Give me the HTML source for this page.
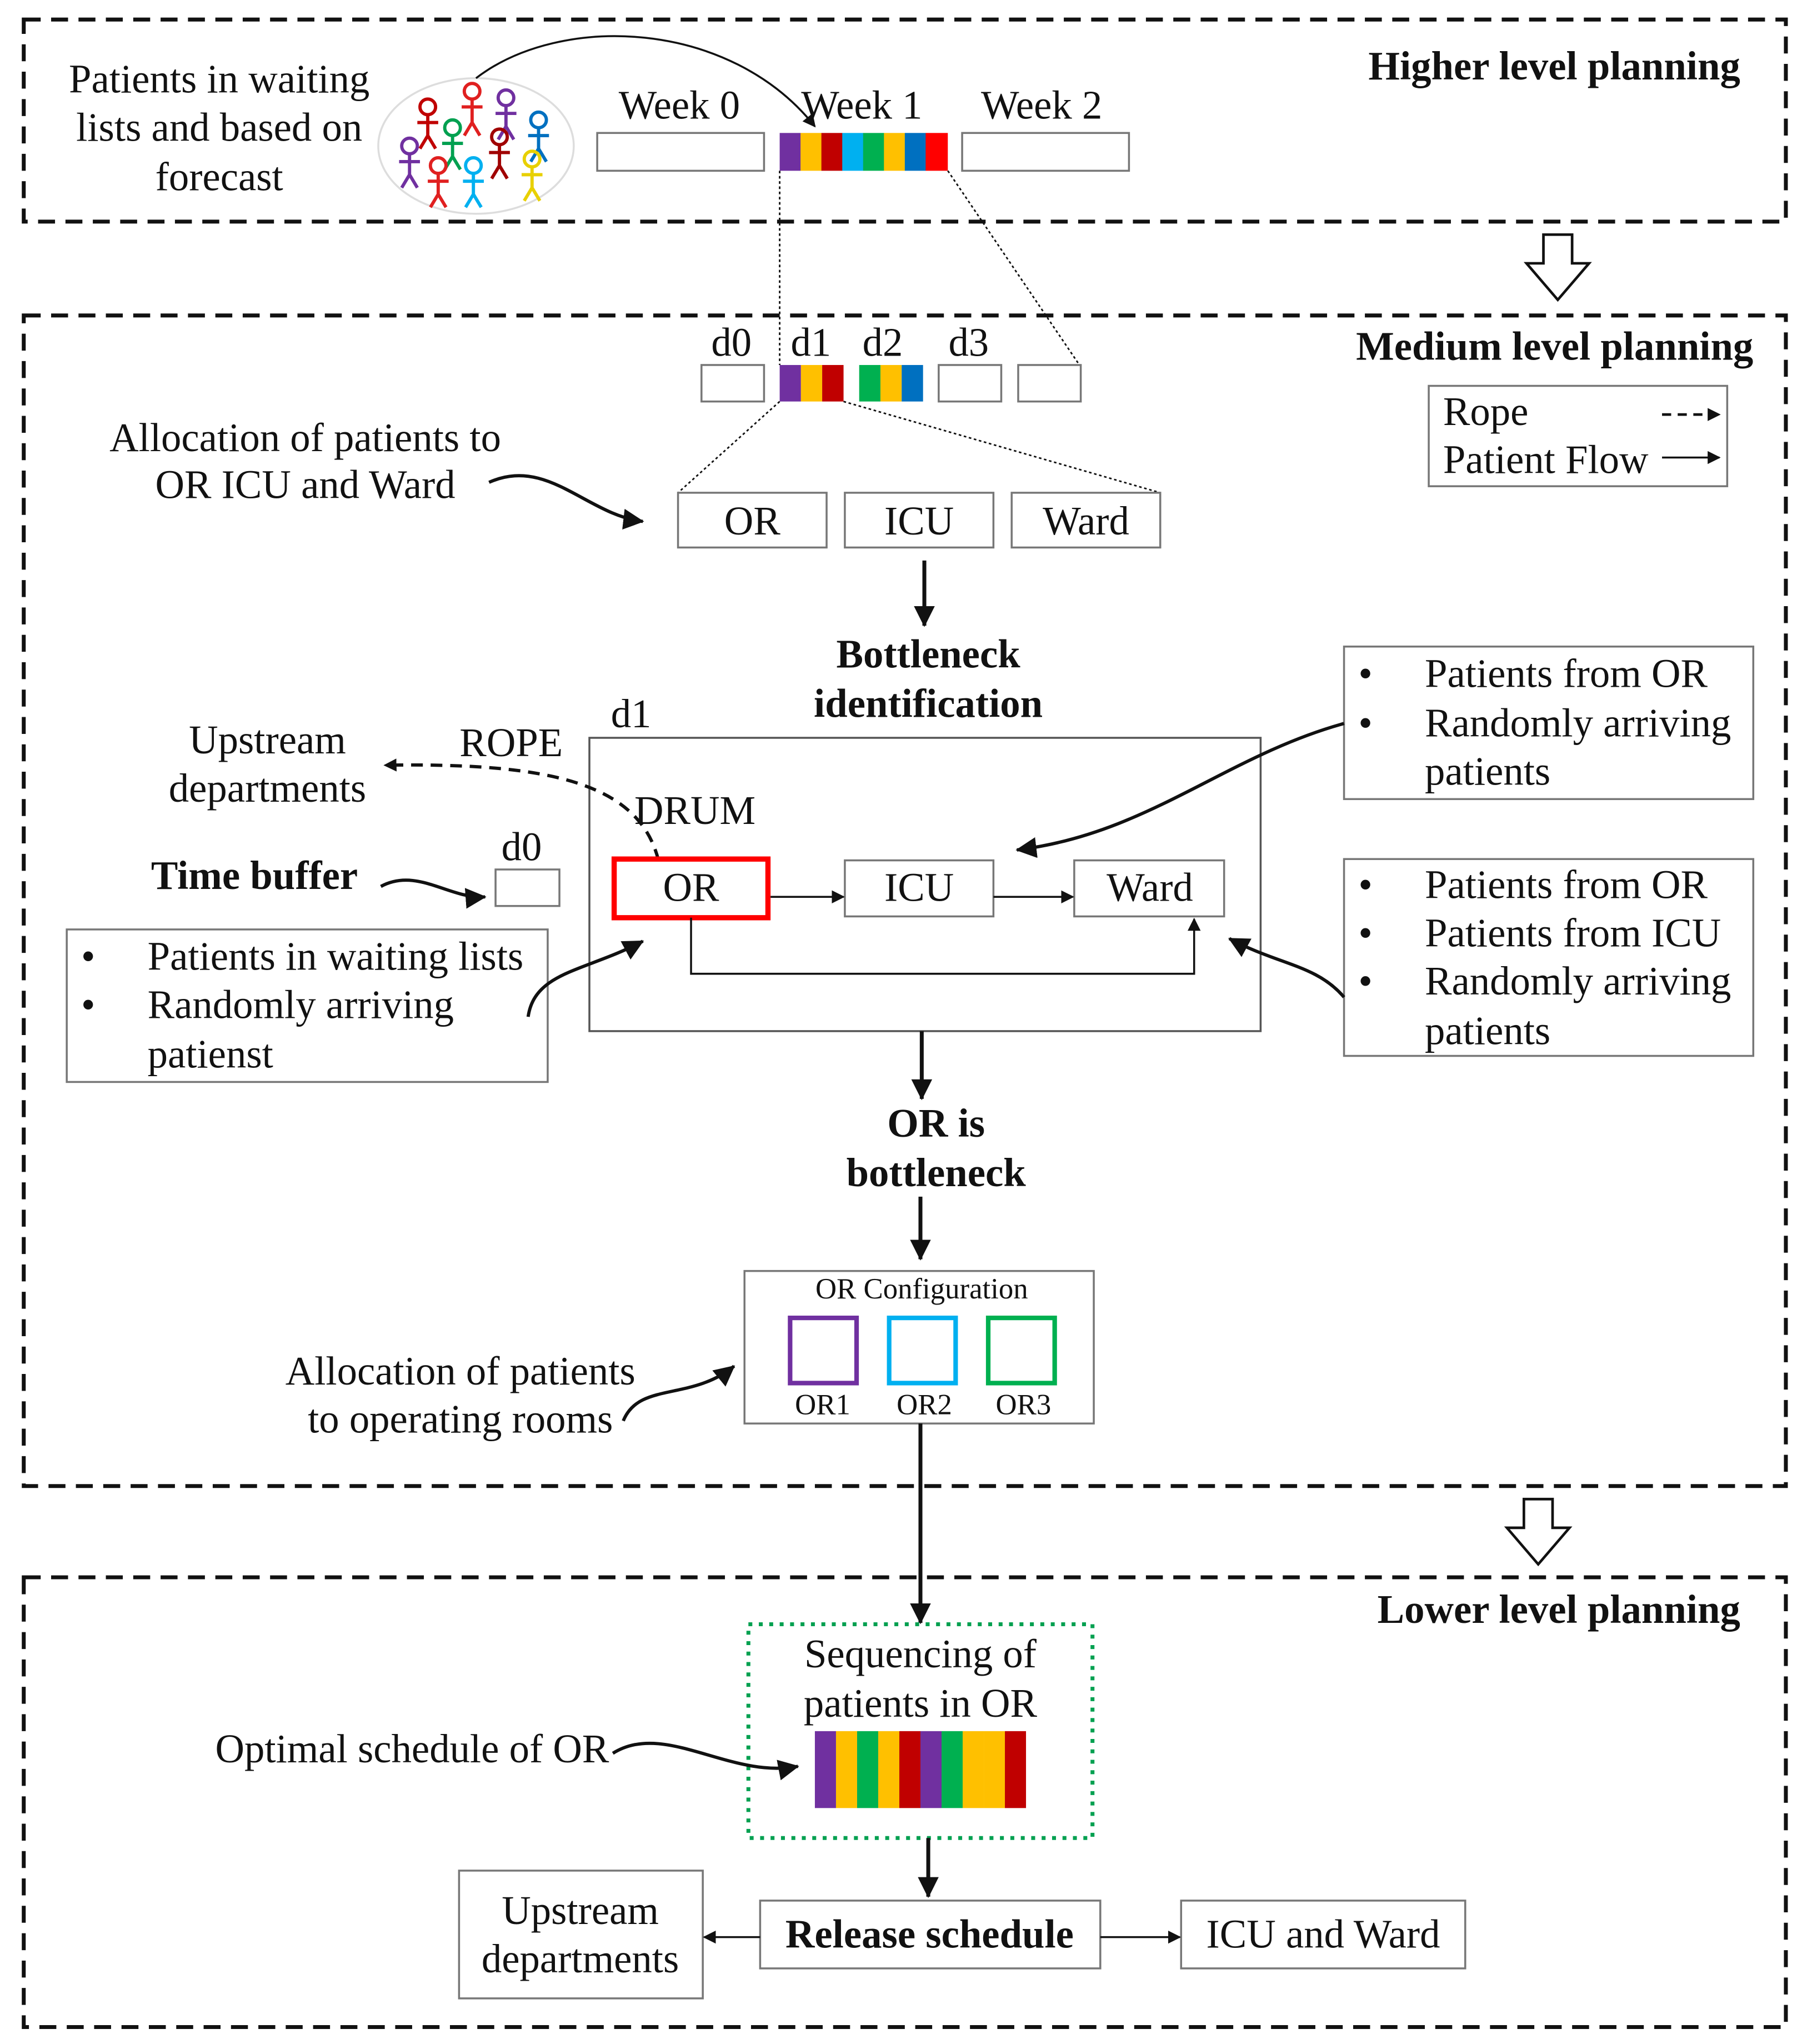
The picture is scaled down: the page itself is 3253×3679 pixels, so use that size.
<!DOCTYPE html>
<html><head><meta charset="utf-8"><style>
html,body{margin:0;padding:0;background:#fff;}
svg{display:block;}
text{font-family:"Liberation Serif",serif;font-size:31px;fill:#111;}
.b{font-weight:bold;}
.s{font-size:22.5px;}
</style></head><body>
<svg width="3253" height="3679" viewBox="0 0 1386 1568" xmlns="http://www.w3.org/2000/svg">
<defs>
<marker id="ah" markerWidth="10" markerHeight="10" refX="9" refY="5" orient="auto" markerUnits="userSpaceOnUse"><path d="M0,0 L10,5 L0,10 z" fill="#111"/></marker>
<marker id="ahb" markerWidth="16" markerHeight="16" refX="15" refY="8" orient="auto" markerUnits="userSpaceOnUse"><path d="M0,0 L16,8 L0,16 z" fill="#111"/></marker>
</defs>
<g fill="none" stroke="#111" stroke-width="3" stroke-dasharray="13,8">
<rect x="18" y="15" width="1352" height="155"/>
<rect x="18" y="242" width="1352" height="898"/>
<rect x="18" y="1210" width="1352" height="345"/>
</g>
<!-- top -->
<text x="168" y="71" text-anchor="middle">Patients in waiting</text>
<text x="168" y="108" text-anchor="middle">lists and based on</text>
<text x="168" y="146" text-anchor="middle">forecast</text>
<ellipse cx="365" cy="112" rx="75" ry="52" fill="none" stroke="#ddd" stroke-width="1.5"/>
<g fill="none" stroke-width="2.5">
<g stroke="#e02020"><circle cx="362" cy="70" r="6"/><path d="M362,76v18M354,82h16M362,94l-6,10M362,94l6,10"/></g>
<g stroke="#7030a0"><circle cx="388" cy="75" r="6"/><path d="M388,81v16M380,87h16M388,97l-6,10M388,97l6,10"/></g>
<g stroke="#c00000"><circle cx="328" cy="82" r="6"/><path d="M328,88v16M320,94h16M328,104l-6,10M328,104l6,10"/></g>
<g stroke="#00a050"><circle cx="347" cy="98" r="6"/><path d="M347,104v16M339,110h16M347,120l-6,10M347,120l6,10"/></g>
<g stroke="#0070c0"><circle cx="413" cy="92" r="6"/><path d="M413,98v16M405,104h16M413,114l-6,10M413,114l6,10"/></g>
<g stroke="#a00000"><circle cx="383" cy="105" r="6"/><path d="M383,111v16M375,117h16M383,127l-6,10M383,127l6,10"/></g>
<g stroke="#7030a0"><circle cx="314" cy="112" r="6"/><path d="M314,118v16M306,124h16M314,134l-6,10M314,134l6,10"/></g>
<g stroke="#e02020"><circle cx="336" cy="127" r="6"/><path d="M336,133v16M328,139h16M336,149l-6,10M336,149l6,10"/></g>
<g stroke="#00b0f0"><circle cx="363" cy="127" r="6"/><path d="M363,133v16M355,139h16M363,149l-6,10M363,149l6,10"/></g>
<g stroke="#e8d000"><circle cx="408" cy="122" r="6"/><path d="M408,128v16M400,134h16M408,144l-6,10M408,144l6,10"/></g>
</g>
<path d="M365,60 C430,10 560,15 625,97" fill="none" stroke="#111" stroke-width="1.5" marker-end="url(#ah)"/>
<text x="521" y="91" text-anchor="middle">Week 0</text>
<text x="661" y="91" text-anchor="middle">Week 1</text>
<text x="799" y="91" text-anchor="middle">Week 2</text>
<rect x="458" y="102" width="128" height="29" fill="#fff" stroke="#777" stroke-width="1.5"/>
<rect x="738" y="102" width="128" height="29" fill="#fff" stroke="#777" stroke-width="1.5"/>
<g>
<rect x="598" y="102" width="16.2" height="29" fill="#7030a0"/>
<rect x="614" y="102" width="16.2" height="29" fill="#ffc000"/>
<rect x="630" y="102" width="16.2" height="29" fill="#c00000"/>
<rect x="646" y="102" width="16.2" height="29" fill="#00b0f0"/>
<rect x="662" y="102" width="16.2" height="29" fill="#00b050"/>
<rect x="678" y="102" width="16.2" height="29" fill="#ffc000"/>
<rect x="694" y="102" width="16.2" height="29" fill="#0070c0"/>
<rect x="710" y="102" width="17" height="29" fill="#ff0000"/>
</g>
<text x="1335" y="61" text-anchor="end" class="b">Higher level planning</text>
<path d="M1184,180 h22 v22 h13 l-24,28 l-24,-28 h13 z" fill="#fff" stroke="#111" stroke-width="2"/>
<!-- medium -->
<g stroke="#111" stroke-width="1.2" stroke-dasharray="2,2" fill="none">
<path d="M598,131 V280 M727,131 L828,280 M598,308 L520,378 M647,308 L890,378"/>
</g>
<text x="561" y="273" text-anchor="middle">d0</text>
<text x="622" y="273" text-anchor="middle">d1</text>
<text x="677" y="273" text-anchor="middle">d2</text>
<text x="743" y="273" text-anchor="middle">d3</text>
<g fill="#fff" stroke="#777" stroke-width="1.5">
<rect x="538" y="280" width="48" height="28"/><rect x="720" y="280" width="48" height="28"/><rect x="781" y="280" width="48" height="28"/>
</g>
<rect x="598" y="280" width="16.3" height="28" fill="#7030a0"/><rect x="614.3" y="280" width="16.3" height="28" fill="#ffc000"/><rect x="630.6" y="280" width="16.4" height="28" fill="#c00000"/>
<rect x="659" y="280" width="16.3" height="28" fill="#00b050"/><rect x="675.3" y="280" width="16.3" height="28" fill="#ffc000"/><rect x="691.6" y="280" width="16.4" height="28" fill="#0070c0"/>
<text x="1345" y="276" text-anchor="end" class="b">Medium level planning</text>
<rect x="1096" y="296" width="229" height="77" fill="#fff" stroke="#777" stroke-width="1.5"/>
<text x="1107" y="326">Rope</text>
<text x="1107" y="363">Patient Flow</text>
<path d="M1275,318 H1319" stroke="#111" stroke-width="2" stroke-dasharray="7,5" marker-end="url(#ah)"/>
<path d="M1275,351 H1319" stroke="#111" stroke-width="1.5" marker-end="url(#ah)"/>
<text x="234" y="346" text-anchor="middle">Allocation of patients to</text>
<text x="234" y="382" text-anchor="middle">OR ICU and Ward</text>
<path d="M375,370 C420,350 450,395 493,400" fill="none" stroke="#111" stroke-width="2.5" marker-end="url(#ahb)"/>
<g fill="#fff" stroke="#777" stroke-width="1.5">
<rect x="520" y="378" width="114" height="42"/><rect x="648" y="378" width="114" height="42"/><rect x="776" y="378" width="114" height="42"/>
</g>
<text x="577" y="410" text-anchor="middle">OR</text>
<text x="705" y="410" text-anchor="middle">ICU</text>
<text x="833" y="410" text-anchor="middle">Ward</text>
<path d="M709,430 V480" stroke="#111" stroke-width="3" marker-end="url(#ahb)"/>
<text x="712" y="512" text-anchor="middle" class="b">Bottleneck</text>
<text x="712" y="550" text-anchor="middle" class="b">identification</text>
<text x="484" y="558" text-anchor="middle">d1</text>
<rect x="452" y="566" width="515" height="225" fill="none" stroke="#555" stroke-width="1.5"/>
<text x="205" y="578" text-anchor="middle">Upstream</text>
<text x="205" y="615" text-anchor="middle">departments</text>
<text x="392" y="580" text-anchor="middle">ROPE</text>
<path d="M505,660 C490,600 420,585 295,587" fill="none" stroke="#111" stroke-width="2.5" stroke-dasharray="9,6" marker-end="url(#ah)"/>
<text x="533" y="632" text-anchor="middle">DRUM</text>
<rect x="471" y="659" width="118" height="45" fill="#fff" stroke="#ff0000" stroke-width="4"/>
<rect x="648" y="660" width="114" height="43" fill="#fff" stroke="#777" stroke-width="1.5"/>
<rect x="824" y="660" width="115" height="43" fill="#fff" stroke="#777" stroke-width="1.5"/>
<text x="530" y="691" text-anchor="middle">OR</text>
<text x="705" y="691" text-anchor="middle">ICU</text>
<text x="882" y="691" text-anchor="middle">Ward</text>
<path d="M591,688 H647" stroke="#111" stroke-width="1.5" marker-end="url(#ah)"/>
<path d="M762,688 H823" stroke="#111" stroke-width="1.5" marker-end="url(#ah)"/>
<path d="M530,704 V747 H916 V705" fill="none" stroke="#111" stroke-width="1.5" marker-end="url(#ah)"/>
<text x="195" y="682" text-anchor="middle" class="b">Time buffer</text>
<path d="M292,680 C320,665 345,690 372,688" fill="none" stroke="#111" stroke-width="2.5" marker-end="url(#ahb)"/>
<text x="400" y="660" text-anchor="middle">d0</text>
<rect x="380" y="667" width="49" height="28" fill="#fff" stroke="#777" stroke-width="1.5"/>
<rect x="51" y="713" width="369" height="117" fill="#fff" stroke="#777" stroke-width="1.5"/>
<text x="62" y="744">•</text><text x="113" y="744">Patients in waiting lists</text>
<text x="62" y="781">•</text><text x="113" y="781">Randomly arriving</text>
<text x="113" y="819">patienst</text>
<path d="M405,780 C410,745 450,745 493,722" fill="none" stroke="#111" stroke-width="2.5" marker-end="url(#ahb)"/>
<rect x="1031" y="496" width="314" height="117" fill="#fff" stroke="#777" stroke-width="1.5"/>
<text x="1042" y="527">•</text><text x="1093" y="527">Patients from OR</text>
<text x="1042" y="565">•</text><text x="1093" y="565">Randomly arriving</text>
<text x="1093" y="602">patients</text>
<path d="M1031,555 C940,580 880,640 780,652" fill="none" stroke="#111" stroke-width="2.5" marker-end="url(#ahb)"/>
<rect x="1031" y="659" width="314" height="151" fill="#fff" stroke="#777" stroke-width="1.5"/>
<text x="1042" y="689">•</text><text x="1093" y="689">Patients from OR</text>
<text x="1042" y="726">•</text><text x="1093" y="726">Patients from ICU</text>
<text x="1042" y="763">•</text><text x="1093" y="763">Randomly arriving</text>
<text x="1093" y="801">patients</text>
<path d="M1031,765 C1010,740 980,740 943,720" fill="none" stroke="#111" stroke-width="2.5" marker-end="url(#ahb)"/>
<path d="M707,791 V843" stroke="#111" stroke-width="3" marker-end="url(#ahb)"/>
<text x="718" y="872" text-anchor="middle" class="b">OR is</text>
<text x="718" y="910" text-anchor="middle" class="b">bottleneck</text>
<path d="M706,918 V966" stroke="#111" stroke-width="3" marker-end="url(#ahb)"/>
<rect x="571" y="975" width="268" height="117" fill="#fff" stroke="#777" stroke-width="1.5"/>
<text x="707" y="996" text-anchor="middle" class="s">OR Configuration</text>
<rect x="606" y="1011" width="51" height="50" fill="none" stroke="#7030a0" stroke-width="3.5"/>
<rect x="682" y="1011" width="51" height="50" fill="none" stroke="#00b0f0" stroke-width="3.5"/>
<rect x="758" y="1011" width="51" height="50" fill="none" stroke="#00b050" stroke-width="3.5"/>
<text x="631" y="1085" text-anchor="middle" class="s">OR1</text>
<text x="709" y="1085" text-anchor="middle" class="s">OR2</text>
<text x="785" y="1085" text-anchor="middle" class="s">OR3</text>
<text x="353" y="1062" text-anchor="middle">Allocation of patients</text>
<text x="353" y="1099" text-anchor="middle">to operating rooms</text>
<path d="M478,1090 C490,1060 530,1075 563,1048" fill="none" stroke="#111" stroke-width="2.5" marker-end="url(#ahb)"/>
<path d="M706,1092 V1245" stroke="#111" stroke-width="3" marker-end="url(#ahb)"/>
<path d="M1169,1150 h22 v22 h13 l-24,28 l-24,-28 h13 z" fill="#fff" stroke="#111" stroke-width="2"/>
<!-- lower -->
<text x="1335" y="1245" text-anchor="end" class="b">Lower level planning</text>
<rect x="574" y="1246" width="264" height="164" fill="none" stroke="#00a050" stroke-width="3" stroke-dasharray="3,5"/>
<text x="706" y="1279" text-anchor="middle">Sequencing of</text>
<text x="706" y="1317" text-anchor="middle">patients in OR</text>
<g>
<rect x="625" y="1328" width="16.2" height="59" fill="#7030a0"/>
<rect x="641.2" y="1328" width="16.2" height="59" fill="#ffc000"/>
<rect x="657.4" y="1328" width="16.2" height="59" fill="#00b050"/>
<rect x="673.6" y="1328" width="16.2" height="59" fill="#ffc000"/>
<rect x="689.8" y="1328" width="16.2" height="59" fill="#c00000"/>
<rect x="706" y="1328" width="16.2" height="59" fill="#7030a0"/>
<rect x="722.2" y="1328" width="16.2" height="59" fill="#00b050"/>
<rect x="738.4" y="1328" width="16.2" height="59" fill="#ffc000"/>
<rect x="754.6" y="1328" width="16.2" height="59" fill="#ffc000"/>
<rect x="770.8" y="1328" width="16.2" height="59" fill="#c00000"/>
</g>
<text x="316" y="1352" text-anchor="middle">Optimal schedule of OR</text>
<path d="M470,1345 C510,1320 560,1365 612,1355" fill="none" stroke="#111" stroke-width="2.5" marker-end="url(#ahb)"/>
<path d="M712,1410 V1455" stroke="#111" stroke-width="3" marker-end="url(#ahb)"/>
<rect x="352" y="1435" width="187" height="98" fill="#fff" stroke="#777" stroke-width="1.5"/>
<text x="445" y="1476" text-anchor="middle">Upstream</text>
<text x="445" y="1513" text-anchor="middle">departments</text>
<rect x="583" y="1458" width="261" height="52" fill="#fff" stroke="#777" stroke-width="1.5"/>
<text x="713" y="1494" text-anchor="middle" class="b">Release schedule</text>
<rect x="906" y="1458" width="218" height="52" fill="#fff" stroke="#777" stroke-width="1.5"/>
<text x="1015" y="1494" text-anchor="middle">ICU and Ward</text>
<path d="M583,1486 H540" stroke="#111" stroke-width="1.5" marker-end="url(#ah)"/>
<path d="M844,1486 H905" stroke="#111" stroke-width="1.5" marker-end="url(#ah)"/>
</svg>
</body></html>
